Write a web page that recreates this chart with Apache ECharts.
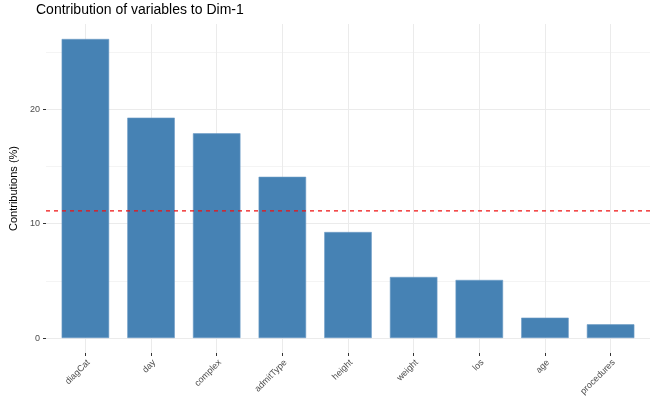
<!DOCTYPE html>
<html>
<head>
<meta charset="utf-8">
<script src="https://cdn.jsdelivr.net/npm/echarts@6/dist/echarts.min.js"></script>
<style>html,body{margin:0;padding:0;background:#fff}#c{width:656px;height:405px}</style>
</head>
<body>
<div id="c"></div>
<script>
var categories = ['diagCat','day','complex','admitType','height','weight','los','age','procedures'];
var contributions = [26.15, 19.27, 17.9, 14.1, 9.27, 5.34, 5.08, 1.78, 1.2];
var expectedContribution = 100 / 9;
var yTicks = [0, 10, 20];
var yMinorTicks = [5, 15, 25];
var titleText = 'Contribution of variables to Dim-1';
var yName = 'Contributions (%)';

var idx = categories.map(function (_, i) { return i; });
var xMin = -0.6, xMax = categories.length - 1 + 0.6;
var chart = echarts.init(document.getElementById('c'), null, {renderer: 'canvas'});
var grid = '#EBEBEB';
var txt = '#4D4D4D';
var font = 'Liberation Sans, Arial, Helvetica, sans-serif';

var gridLines = [];
yMinorTicks.forEach(function (v) { gridLines.push({yAxis: v, lineStyle: {color: '#F4F4F4', width: 1, type: 'solid'}}); });
yTicks.forEach(function (v) { gridLines.push({yAxis: v, lineStyle: {color: grid, width: 1, type: 'solid'}}); });
idx.forEach(function (v) { gridLines.push({xAxis: v, lineStyle: {color: grid, width: 1, type: 'solid'}}); });

chart.setOption({
  animation: false,
  backgroundColor: '#fff',
  title: {
    text: titleText, left: 36, top: 3, padding: 0,
    textStyle: {fontFamily: font, fontSize: 14, fontWeight: 'normal', color: '#000'}
  },
  grid: {left: 36, right: 6, top: 24, bottom: 52, containLabel: false},
  xAxis: {
    type: 'value', min: xMin, max: xMax,
    axisLine: {show: true, onZero: false, lineStyle: {color: 'rgba(0,0,0,0)', width: 0}},
    splitLine: {show: false},
    axisTick: {show: true, customValues: idx, length: 3, lineStyle: {color: '#333', width: 1}},
    axisLabel: {
      customValues: idx, rotate: 45, margin: 5, align: 'right', verticalAlign: 'top',
      fontFamily: font, fontSize: 9, color: txt,
      formatter: function (v) { return categories[v]; }
    }
  },
  yAxis: {
    type: 'value', min: -1.31, max: 27.46,
    name: yName, nameLocation: 'middle', nameGap: 27,
    nameTextStyle: {fontFamily: font, fontSize: 11, color: '#000'},
    axisLine: {show: true, onZero: false, lineStyle: {color: 'rgba(0,0,0,0)', width: 0}},
    splitLine: {show: false},
    axisTick: {show: true, customValues: yTicks, length: 3, lineStyle: {color: '#333', width: 1}},
    axisLabel: {customValues: yTicks, margin: 6, fontFamily: font, fontSize: 9, color: txt}
  },
  series: [
    {
      type: 'line', data: [], z: 0, silent: true,
      markLine: {z: 0, silent: true, symbol: 'none', label: {show: false}, animation: false, data: gridLines}
    },
    {
      type: 'bar', z: 3, barWidth: 47.5,
      data: idx.map(function (i) { return [i, contributions[i]]; }),
      itemStyle: {color: '#4682B4', borderColor: '#6D9CC6', borderWidth: 0.6}
    },
    {
      type: 'line', z: 6, silent: true, symbol: 'none', showSymbol: false,
      data: [[xMin, expectedContribution], [xMax, expectedContribution]],
      itemStyle: {color: '#EE1111'},
      lineStyle: {color: '#EE1111', width: 1.2, type: [4, 4]}
    }
  ]
});
</script>
</body>
</html>
